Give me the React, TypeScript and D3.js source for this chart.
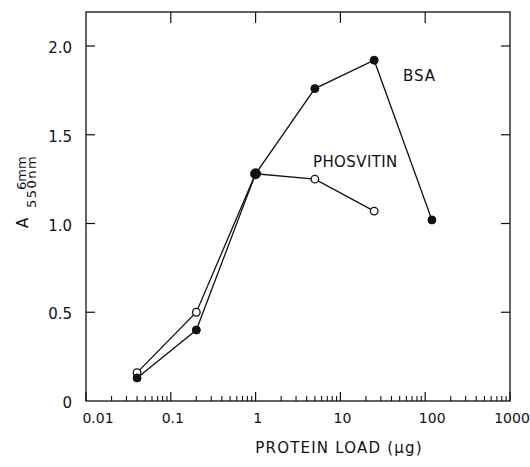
import React from "react";
import * as d3 from "d3";

const bsaLoad = [0.04, 0.2, 1, 5, 25, 120];
const bsaAbs = [0.13, 0.4, 1.28, 1.76, 1.92, 1.02];
const phosLoad = [0.04, 0.2, 1, 5, 25];
const phosAbs = [0.16, 0.5, 1.28, 1.25, 1.07];
const yTicks = [0, 0.5, 1.0, 1.5, 2.0];
const yTickLabels = ["0", "0.5", "1.0", "1.5", "2.0"];
const xDecades = [0.01, 0.1, 1, 10, 100, 1000];
const xTickLabels = ["0.01", "0.1", "1", "10", "100", "1000"];

const W = 530, H = 467;
const L = 86, R = 510, T = 12, B = 401;
const FONT = "'DejaVu Sans', sans-serif";

export default function App() {
  const x = d3.scaleLog().domain([0.01, 1000]).range([L, R]);
  const y = d3.scaleLinear().domain([0, 2.2]).range([B, B - 2.2 * 177.5]);
  const line = d3.line<[number, number]>().x(d => x(d[0])).y(d => y(d[1]));
  const bsa = bsaLoad.map((v, i) => [v, bsaAbs[i]] as [number, number]);
  const phos = phosLoad.map((v, i) => [v, phosAbs[i]] as [number, number]);
  const minor: number[] = [];
  for (let e = -2; e < 3; e++) for (let m = 2; m <= 9; m++) minor.push(m * Math.pow(10, e));
  const stroke = "#111";
  return (
    <svg width={W} height={H} style={{ position: "fixed", left: 0, top: 0, background: "#fff" }}>
      <rect x={0} y={0} width={W} height={H} fill="#fff" />
      <rect x={L} y={T} width={R - L} height={B - T} fill="none" stroke={stroke} strokeWidth={1.3} />
      {xDecades.map((d, i) => (
        <line key={"bd" + i} x1={x(d)} x2={x(d)} y1={B} y2={B - 9} stroke={stroke} strokeWidth={1.2} />
      ))}
      {minor.map((d, i) => (
        <line key={"bm" + i} x1={x(d)} x2={x(d)} y1={B} y2={B - 5} stroke={stroke} strokeWidth={1.1} />
      ))}
      {xDecades.slice(1, -1).map((d, i) => (
        <line key={"td" + i} x1={x(d)} x2={x(d)} y1={T} y2={T + 11} stroke={stroke} strokeWidth={1.2} />
      ))}
      {yTicks.slice(1).map((v, i) => (
        <g key={"yt" + i}>
          <line x1={L} x2={L + 9} y1={y(v)} y2={y(v)} stroke={stroke} strokeWidth={1.2} />
          <line x1={R} x2={R - 9} y1={y(v)} y2={y(v)} stroke={stroke} strokeWidth={1.2} />
        </g>
      ))}
      {yTicks.map((v, i) => (
        <text key={"yl" + i} x={72} y={y(v) + 7} textAnchor="end" fontFamily={FONT} fontSize={15} fill={stroke}>
          {yTickLabels[i]}
        </text>
      ))}
      {xDecades.map((d, i) => (
        <text key={"xl" + i} x={x(d) + (i === 0 ? 12 : i === 4 ? 7 : 2)} y={423} textAnchor="middle" fontFamily={FONT} fontSize={14} fill={stroke}>
          {xTickLabels[i]}
        </text>
      ))}
      <text x={339} y={453} textAnchor="middle" fontFamily={FONT} fontSize={15} letterSpacing={1.2} fill={stroke}>
        PROTEIN LOAD (μg)
      </text>
      <g transform="rotate(-90)">
        <text x={-228} y={28} fontFamily={FONT} fontSize={15} fill={stroke}>A</text>
        <text x={-208} y={36} fontFamily={FONT} fontSize={13} letterSpacing={1.5} fill={stroke}>550nm</text>
        <text x={-190} y={26} fontFamily={FONT} fontSize={13} fill={stroke}>6mm</text>
      </g>
      <path d={line(phos) || ""} fill="none" stroke={stroke} strokeWidth={1.3} />
      <path d={line(bsa) || ""} fill="none" stroke={stroke} strokeWidth={1.3} />
      {phos.map((p, i) => (
        <circle key={"pc" + i} cx={x(p[0])} cy={y(p[1])} r={3.8} fill="#fff" stroke={stroke} strokeWidth={1.3} />
      ))}
      {bsa.map((p, i) => (
        <circle key={"bc" + i} cx={x(p[0])} cy={y(p[1])} r={i === 2 ? 5 : 4} fill={stroke} stroke={stroke} strokeWidth={1} />
      ))}
      <text x={403} y={81} fontFamily={FONT} fontSize={15} letterSpacing={1} fill={stroke}>BSA</text>
      <text x={313} y={167} fontFamily={FONT} fontSize={15} letterSpacing={0.4} fill={stroke}>PHOSVITIN</text>
    </svg>
  );
}
